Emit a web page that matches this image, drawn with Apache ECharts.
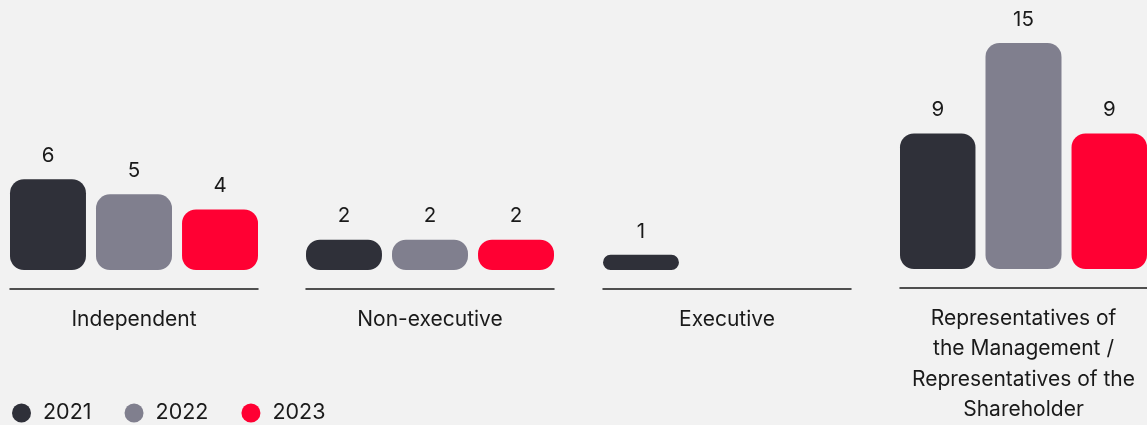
<!DOCTYPE html>
<html>
<head>
<meta charset="utf-8">
<script src="https://cdn.jsdelivr.net/npm/echarts@6/dist/echarts.min.js"></script>
<style>
  html, body { margin: 0; padding: 0; background: #f2f2f2; }
  #chart { width: 1147px; height: 425px; }
</style>
</head>
<body>
<div id="chart"></div>
<script>
// groups of board members
const groups = [
  "Independent",
  "Non-executive",
  "Executive",
  "Representatives of\nthe Management /\nRepresentatives of the\nShareholder"
];
const years = ["2021", "2022", "2023"];
// values per year, one entry per group ('-' = no bar)
const v2021 = [6, 2, 1, 9];
const v2022 = [5, 2, "-", 15];
const v2023 = [4, 2, "-", 9];
const colors = ["#2f3039", "#807f8e", "#ff0033"];

const values = [v2021, v2022, v2023];
const lefts = [10, 306, 603, 900];

const chart = echarts.init(document.getElementById("chart"));

const grid = [], xAxis = [], yAxis = [], series = [];
groups.forEach((g, i) => {
  grid.push({ left: lefts[i], width: 248, top: 43, bottom: 155 });
  xAxis.push({
    type: "category",
    gridIndex: i,
    data: [g],
    offset: 19,
    axisLine: { onZero: false, lineStyle: { color: "#1a1a1a", width: 1.5 } },
    axisTick: { show: false },
    axisLabel: {
      margin: 15,
      color: "#1a1a1a",
      fontSize: 21,
      lineHeight: 30.5,
      fontFamily: "Inter",
      align: "center"
    }
  });
  yAxis.push({
    type: "value",
    gridIndex: i,
    min: 0,
    max: 15,
    show: false
  });
  years.forEach((y, k) => {
    series.push({
      name: y,
      type: "bar",
      xAxisIndex: i,
      yAxisIndex: i,
      data: [values[k][i]],
      barWidth: 76,
      barGap: "13.2%",
      itemStyle: { color: colors[k], borderRadius: 14 },
      label: {
        show: true,
        position: "top",
        distance: 13,
        color: "#1a1a1a",
        fontSize: 20.5,
        fontFamily: "Inter"
      }
    });
  });
});

chart.setOption({
  backgroundColor: "#f2f2f2",
  animation: false,
  legend: {
    data: years,
    left: 12,
    bottom: 1,
    padding: 0,
    icon: "circle",
    itemWidth: 19,
    itemHeight: 19,
    itemGap: 33,
    textStyle: { color: "#1a1a1a", fontSize: 21.5, fontFamily: "Inter", padding: [0, 0, 0, 7] }
  },
  grid: grid,
  xAxis: xAxis,
  yAxis: yAxis,
  series: series
});
</script>
</body>
</html>
